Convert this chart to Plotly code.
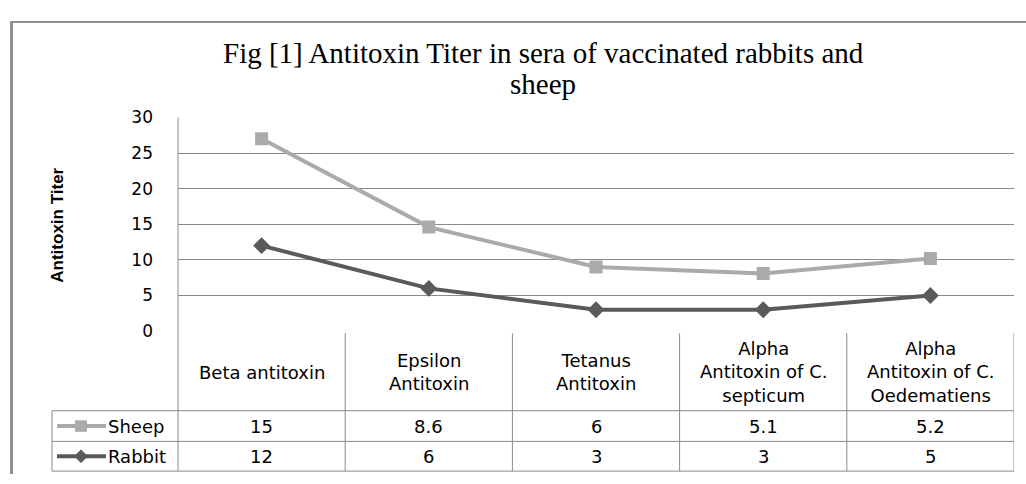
import plotly.graph_objects as go

# ---- data ----
categories = ["Beta antitoxin", "Epsilon Antitoxin", "Tetanus Antitoxin",
              "Alpha Antitoxin of C. septicum", "Alpha Antitoxin of C. Oedematiens"]
category_labels = ["Beta antitoxin", "Epsilon<br>Antitoxin", "Tetanus<br>Antitoxin",
                   "Alpha<br>Antitoxin of C.<br>septicum", "Alpha<br>Antitoxin of C.<br>Oedematiens"]
sheep = [15, 8.6, 6, 5.1, 5.2]
rabbit = [12, 6, 3, 3, 5]
sheep_text = ["15", "8.6", "6", "5.1", "5.2"]
rabbit_text = ["12", "6", "3", "3", "5"]
y_ticks = [0, 5, 10, 15, 20, 25, 30]
title_lines = ["Fig [1] Antitoxin Titer in sera of vaccinated rabbits and", "sheep"]

W, H = 1026, 484
def px(x):
    return x / W
def py(y):
    return 1 - y / H

SHEEP_C = "#aaaaaa"
RABBIT_C = "#5a5a5a"
GRID_C = "#8a8a8a"
SANS = "DejaVu Sans, Verdana, sans-serif"
FS = 18

x_idx = list(range(len(categories)))

fig = go.Figure()
# stacked line chart (Excel "stacked line"): rabbit at bottom, sheep on top
fig.add_trace(go.Scatter(x=x_idx, y=rabbit, name="Rabbit", stackgroup="one", fill="none",
                         mode="lines+markers",
                         line=dict(color=RABBIT_C, width=4),
                         marker=dict(symbol="diamond", size=13, color=RABBIT_C)))
fig.add_trace(go.Scatter(x=x_idx, y=sheep, name="Sheep", stackgroup="one", fill="none",
                         mode="lines+markers",
                         line=dict(color=SHEEP_C, width=4),
                         marker=dict(symbol="square", size=13, color=SHEEP_C)))

shapes = []
annotations = []
# outer chart border (top and left visible)
shapes.append(dict(type="line", xref="paper", yref="paper", x0=px(10), x1=1, y0=py(12.5), y1=py(12.5),
                   line=dict(color="#8f8f8f", width=2)))
shapes.append(dict(type="line", xref="paper", yref="paper", x0=px(11.5), x1=px(11.5), y0=py(11.5), y1=0,
                   line=dict(color="#8f8f8f", width=3)))
# left vertical axis line through plot and table
shapes.append(dict(type="line", xref="paper", yref="paper", x0=px(178), x1=px(178), y0=py(112), y1=py(481),
                   line=dict(color=GRID_C, width=1)))
# category dividers
for i in x_idx:
    shapes.append(dict(type="line", xref="x", yref="paper", x0=i + 0.5, x1=i + 0.5,
                       y0=py(337), y1=py(481), line=dict(color=GRID_C, width=1)))
# table rows
for yy in (418, 450, 481):
    shapes.append(dict(type="line", xref="paper", yref="paper", x0=px(52), x1=px(1014), y0=py(yy), y1=py(yy),
                       line=dict(color=GRID_C, width=1)))
shapes.append(dict(type="line", xref="paper", yref="paper", x0=px(52), x1=px(52), y0=py(418), y1=py(481),
                   line=dict(color=GRID_C, width=1)))

# legend keys in table
row_y = {"Sheep": 434, "Rabbit": 465.5}
for name, col in (("Sheep", SHEEP_C), ("Rabbit", RABBIT_C)):
    yy = row_y[name]
    shapes.append(dict(type="line", xref="paper", yref="paper", x0=px(57), x1=px(106), y0=py(yy), y1=py(yy),
                       line=dict(color=col, width=4)))
    annotations.append(dict(x=px(106), y=py(yy), xref="paper", yref="paper", text=name, showarrow=False,
                            xanchor="left", yanchor="middle", font=dict(family=SANS, size=FS, color="#000")))
# square key (sheep)
ys = row_y["Sheep"]
shapes.append(dict(type="rect", xref="paper", yref="paper", x0=px(75), x1=px(87), y0=py(ys + 6), y1=py(ys - 6),
                   fillcolor=SHEEP_C, line=dict(width=0)))
# diamond key (rabbit)
yr = row_y["Rabbit"]
shapes.append(dict(type="path", xref="paper", yref="paper",
                   path=f"M {px(74)} {py(yr)} L {px(81)} {py(yr - 7)} L {px(88)} {py(yr)} L {px(81)} {py(yr + 7)} Z",
                   fillcolor=RABBIT_C, line=dict(width=0)))

# category labels and table values
for i, lab in enumerate(category_labels):
    annotations.append(dict(x=i, y=py(378), xref="x", yref="paper", text=lab, showarrow=False,
                            xanchor="center", yanchor="middle",
                            font=dict(family=SANS, size=FS, color="#000")))
    annotations.append(dict(x=i, y=py(row_y["Sheep"]), xref="x", yref="paper", text=sheep_text[i],
                            showarrow=False, xanchor="center", yanchor="middle",
                            font=dict(family=SANS, size=FS, color="#000")))
    annotations.append(dict(x=i, y=py(row_y["Rabbit"]), xref="x", yref="paper", text=rabbit_text[i],
                            showarrow=False, xanchor="center", yanchor="middle",
                            font=dict(family=SANS, size=FS, color="#000")))

# title (two lines)
for line_text, ty in zip(title_lines, (45, 77)):
    annotations.append(dict(x=px(543), y=py(ty), xref="paper", yref="paper", text=line_text,
                            showarrow=False, xanchor="center", yanchor="middle",
                            font=dict(family="Liberation Serif, Times New Roman, serif", size=29, color="#000")))
# y axis title
annotations.append(dict(x=px(58), y=py(225), xref="paper", yref="paper", text="<b>Antitoxin Titer</b>",
                        showarrow=False, textangle=-90, xanchor="center", yanchor="middle",
                        font=dict(family="Liberation Sans Narrow, Arial Narrow, Liberation Sans, sans-serif",
                                  size=17, color="#000")))

fig.update_layout(
    width=W, height=H, autosize=False,
    margin=dict(l=0, r=0, t=0, b=0),
    paper_bgcolor="white", plot_bgcolor="white",
    showlegend=False,
    shapes=shapes, annotations=annotations,
    xaxis=dict(domain=[px(178), px(1014)], range=[-0.5, 4.5], showticklabels=False,
               showgrid=False, zeroline=False, showline=False, ticks="", fixedrange=True),
    yaxis=dict(domain=[py(335), py(112)], range=[0, 30], tickvals=y_ticks,
               showgrid=True, gridcolor=GRID_C, gridwidth=1, zeroline=False, showline=False,
               ticks="", ticklabelstandoff=24,
               tickfont=dict(family=SANS, size=17, color="#000"), fixedrange=True),
)

fig.write_html("out.html", config={"displayModeBar": False},
               post_script="document.body.style.margin='0';document.body.style.overflow='hidden';")
